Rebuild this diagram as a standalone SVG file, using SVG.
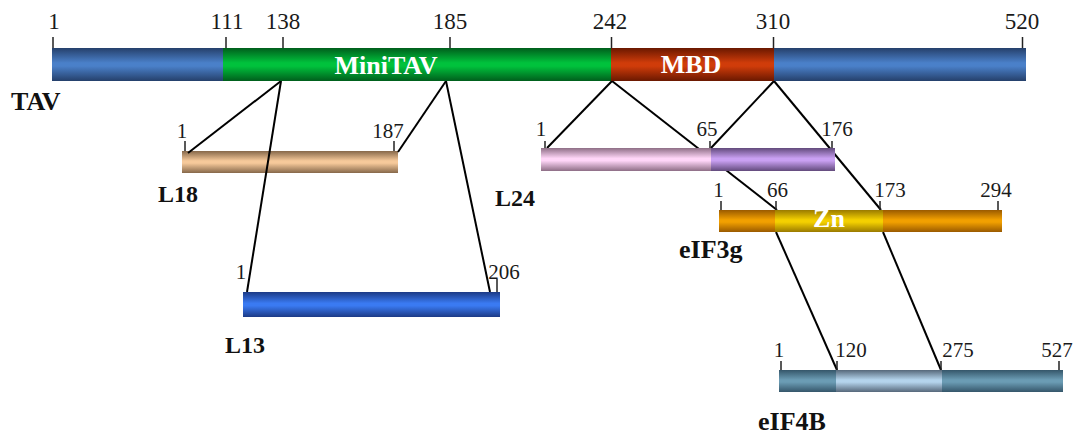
<svg xmlns="http://www.w3.org/2000/svg" width="1077" height="439" viewBox="0 0 1077 439">
  <defs>
    <linearGradient id="gBlue" x1="0" y1="0" x2="0" y2="1">
      <stop offset="0" stop-color="#25406b"/><stop offset="0.45" stop-color="#4a80c9"/><stop offset="0.55" stop-color="#4a80c9"/><stop offset="1" stop-color="#25406b"/>
    </linearGradient>
    <linearGradient id="gGreen" x1="0" y1="0" x2="0" y2="1">
      <stop offset="0" stop-color="#005e1c"/><stop offset="0.45" stop-color="#00c23c"/><stop offset="0.55" stop-color="#00c23c"/><stop offset="1" stop-color="#005e1c"/>
    </linearGradient>
    <linearGradient id="gRed" x1="0" y1="0" x2="0" y2="1">
      <stop offset="0" stop-color="#6a1800"/><stop offset="0.45" stop-color="#d03c0a"/><stop offset="0.55" stop-color="#d03c0a"/><stop offset="1" stop-color="#6a1800"/>
    </linearGradient>
    <linearGradient id="gTan" x1="0" y1="0" x2="0" y2="1">
      <stop offset="0" stop-color="#86684a"/><stop offset="0.45" stop-color="#f6c99a"/><stop offset="0.55" stop-color="#f6c99a"/><stop offset="1" stop-color="#86684a"/>
    </linearGradient>
    <linearGradient id="gPink" x1="0" y1="0" x2="0" y2="1">
      <stop offset="0" stop-color="#8e6e86"/><stop offset="0.45" stop-color="#ffd6f8"/><stop offset="0.55" stop-color="#ffd6f8"/><stop offset="1" stop-color="#8e6e86"/>
    </linearGradient>
    <linearGradient id="gPurple" x1="0" y1="0" x2="0" y2="1">
      <stop offset="0" stop-color="#624a7c"/><stop offset="0.45" stop-color="#c9a0f2"/><stop offset="0.55" stop-color="#c9a0f2"/><stop offset="1" stop-color="#624a7c"/>
    </linearGradient>
    <linearGradient id="gRoyal" x1="0" y1="0" x2="0" y2="1">
      <stop offset="0" stop-color="#1c3a86"/><stop offset="0.45" stop-color="#3a7af2"/><stop offset="0.55" stop-color="#3a7af2"/><stop offset="1" stop-color="#1c3a86"/>
    </linearGradient>
    <linearGradient id="gOrange" x1="0" y1="0" x2="0" y2="1">
      <stop offset="0" stop-color="#9a5a00"/><stop offset="0.45" stop-color="#f2a000"/><stop offset="0.55" stop-color="#f2a000"/><stop offset="1" stop-color="#9a5a00"/>
    </linearGradient>
    <linearGradient id="gYellow" x1="0" y1="0" x2="0" y2="1">
      <stop offset="0" stop-color="#9a7a00"/><stop offset="0.45" stop-color="#f4d000"/><stop offset="0.55" stop-color="#f4d000"/><stop offset="1" stop-color="#9a7a00"/>
    </linearGradient>
    <linearGradient id="gTeal" x1="0" y1="0" x2="0" y2="1">
      <stop offset="0" stop-color="#35566a"/><stop offset="0.45" stop-color="#6b9cb4"/><stop offset="0.55" stop-color="#6b9cb4"/><stop offset="1" stop-color="#35566a"/>
    </linearGradient>
    <linearGradient id="gSky" x1="0" y1="0" x2="0" y2="1">
      <stop offset="0" stop-color="#56687a"/><stop offset="0.45" stop-color="#b4d4ec"/><stop offset="0.55" stop-color="#b4d4ec"/><stop offset="1" stop-color="#56687a"/>
    </linearGradient>
  </defs>
  <style>
    .num { font-family: "Liberation Serif", "DejaVu Serif", serif; font-size: 21px; fill: #1a1a1a; text-anchor: middle; }
    .numTop { font-size: 23px; }
    .name { font-family: "Liberation Serif", "DejaVu Serif", serif; font-size: 26px; font-weight: bold; fill: #111; }
    .short { font-size: 24px; }
    .dom { font-family: "Liberation Serif", "DejaVu Serif", serif; font-size: 26px; font-weight: bold; fill: #fff; text-anchor: middle; }
    .tick { stroke: #222; stroke-width: 1.5; }
    .link { stroke: #000; stroke-width: 2; fill: none; }
  </style>

  <!-- L18 (drawn below the connectors so the L13 link crosses over it) -->
  <g id="L18">
    <rect x="182" y="151" width="216" height="22" fill="url(#gTan)"/>
    <line class="tick" x1="185" y1="141" x2="185" y2="151"/>
    <line class="tick" x1="394" y1="141" x2="394" y2="151"/>
    <text class="num" x="182" y="138">1</text>
    <text class="num" x="388" y="138">187</text>
    <text class="name short" x="158" y="202">L18</text>
  </g>

  <!-- connectors -->
  <g id="connectors">
    <line class="link" x1="281" y1="81" x2="188" y2="153"/>
    <line class="link" x1="281" y1="81" x2="247" y2="292"/>
    <line class="link" x1="446" y1="81" x2="398" y2="152"/>
    <line class="link" x1="446" y1="81" x2="490" y2="292"/>
    <line class="link" x1="612" y1="81" x2="547" y2="148"/>
    <line class="link" x1="612" y1="81" x2="777" y2="210"/>
    <line class="link" x1="774" y1="81" x2="711" y2="148"/>
    <line class="link" x1="774" y1="81" x2="881" y2="210"/>
    <line class="link" x1="776" y1="232" x2="837" y2="370"/>
    <line class="link" x1="883" y1="232" x2="941" y2="370"/>
  </g>

  <!-- TAV -->
  <g id="TAV">
    <rect x="52" y="48" width="172" height="33" fill="url(#gBlue)"/>
    <rect x="223" y="48" width="389" height="33" fill="url(#gGreen)"/>
    <rect x="611" y="48" width="163" height="33" fill="url(#gRed)"/>
    <rect x="774" y="48" width="252" height="33" fill="url(#gBlue)"/>
    <line class="tick" x1="53" y1="37" x2="53" y2="48"/>
    <line class="tick" x1="226" y1="37" x2="226" y2="48"/>
    <line class="tick" x1="283" y1="37" x2="283" y2="48"/>
    <line class="tick" x1="450" y1="37" x2="450" y2="48"/>
    <line class="tick" x1="611.5" y1="37" x2="611.5" y2="48"/>
    <line class="tick" x1="773.5" y1="37" x2="773.5" y2="48"/>
    <line class="tick" x1="1022.5" y1="37" x2="1022.5" y2="48"/>
    <text class="num numTop" x="54" y="29">1</text>
    <text class="num numTop" x="227" y="29">111</text>
    <text class="num numTop" x="283" y="29">138</text>
    <text class="num numTop" x="450" y="29">185</text>
    <text class="num numTop" x="610" y="29">242</text>
    <text class="num numTop" x="773" y="29">310</text>
    <text class="num numTop" x="1022" y="29">520</text>
    <text class="dom" x="386" y="74">MiniTAV</text>
    <text class="dom" x="691" y="73">MBD</text>
    <text class="name" x="11" y="110">TAV</text>
  </g>

  <!-- L24 -->
  <g id="L24">
    <rect x="541" y="148" width="171" height="23" fill="url(#gPink)"/>
    <rect x="711" y="148" width="124" height="23" fill="url(#gPurple)"/>
    <line class="tick" x1="545" y1="141" x2="545" y2="148"/>
    <line class="tick" x1="710" y1="141" x2="710" y2="148"/>
    <line class="tick" x1="832" y1="141" x2="832" y2="148"/>
    <text class="num" x="541" y="136">1</text>
    <text class="num" x="707" y="136">65</text>
    <text class="num" x="837" y="136">176</text>
    <text class="name short" x="495" y="206">L24</text>
  </g>

  <!-- L13 -->
  <g id="L13">
    <rect x="243" y="292" width="257" height="25" fill="url(#gRoyal)"/>
    <line class="tick" x1="497" y1="279" x2="497" y2="292"/>
    <text class="num" x="241" y="279">1</text>
    <text class="num" x="504" y="279">206</text>
    <text class="name short" x="225" y="353">L13</text>
  </g>

  <!-- eIF3g -->
  <g id="eIF3g">
    <rect x="719" y="210" width="57" height="22" fill="url(#gOrange)"/>
    <rect x="775" y="210" width="108" height="22" fill="url(#gYellow)"/>
    <rect x="883" y="210" width="119" height="22" fill="url(#gOrange)"/>
    <line class="tick" x1="721" y1="201" x2="721" y2="210"/>
    <line class="tick" x1="776" y1="201" x2="776" y2="210"/>
    <line class="tick" x1="880" y1="201" x2="880" y2="210"/>
    <line class="tick" x1="998" y1="201" x2="998" y2="210"/>
    <text class="num" x="718.5" y="197">1</text>
    <text class="num" x="777.5" y="197">66</text>
    <text class="num" x="890" y="197">173</text>
    <text class="num" x="996" y="197">294</text>
    <text class="dom" x="829" y="227" font-weight="normal" font-size="27">Zn</text>
    <text class="name" x="679" y="258">eIF3g</text>
  </g>

  <!-- eIF4B -->
  <g id="eIF4B">
    <rect x="779" y="370" width="58" height="22" fill="url(#gTeal)"/>
    <rect x="836" y="370" width="106" height="22" fill="url(#gSky)"/>
    <rect x="942" y="370" width="121" height="22" fill="url(#gTeal)"/>
    <line class="tick" x1="781" y1="361" x2="781" y2="370"/>
    <line class="tick" x1="837" y1="361" x2="837" y2="370"/>
    <line class="tick" x1="941" y1="361" x2="941" y2="370"/>
    <line class="tick" x1="1059" y1="361" x2="1059" y2="370"/>
    <text class="num" x="779" y="357">1</text>
    <text class="num" x="851" y="357">120</text>
    <text class="num" x="958" y="357">275</text>
    <text class="num" x="1057" y="357">527</text>
    <text class="name" x="758" y="430">eIF4B</text>
  </g>
</svg>
